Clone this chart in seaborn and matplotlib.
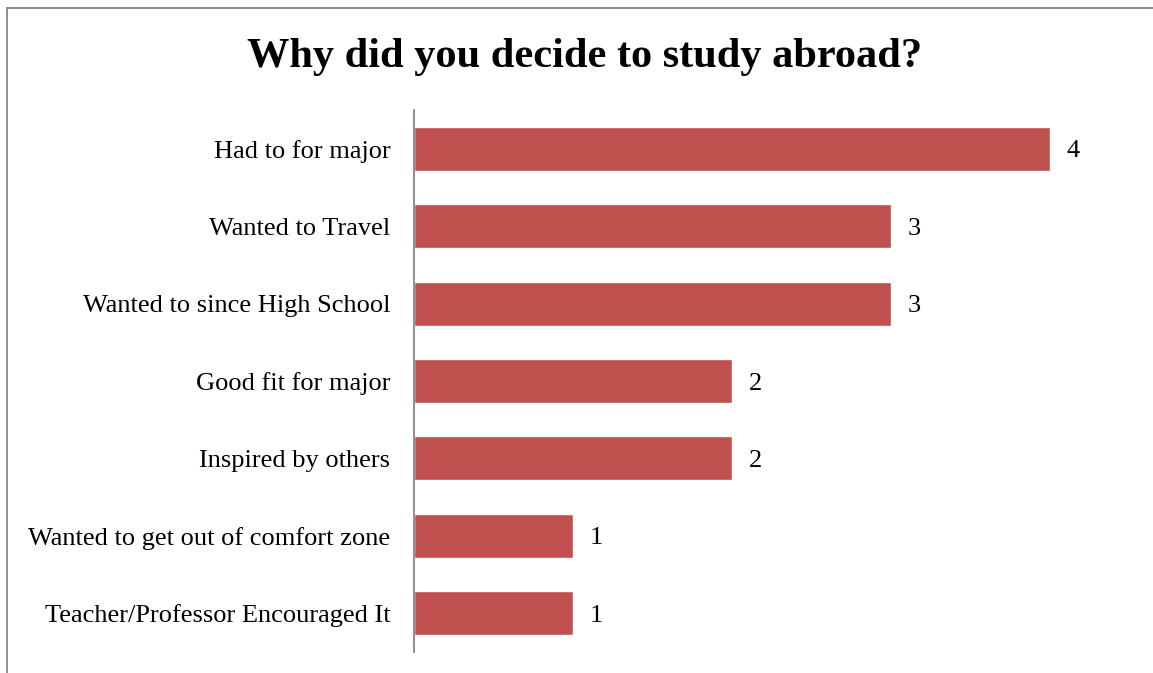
import matplotlib
matplotlib.use("Agg")
import matplotlib.pyplot as plt
import seaborn as sns
import pandas as pd
from matplotlib.lines import Line2D

categories = ["Had to for major", "Wanted to Travel", "Wanted to since High School",
              "Good fit for major", "Inspired by others",
              "Wanted to get out of comfort zone", "Teacher/Professor Encouraged It"]
counts = [4, 3, 3, 2, 2, 1, 1]
title = "Why did you decide to study abroad?"

sns.set_theme(style="white")
plt.rcParams['font.family'] = ['Liberation Serif', 'DejaVu Serif']

df = pd.DataFrame({"reason": categories, "count": counts})

W, H = 1153, 673
fig = plt.figure(figsize=(W / 100, H / 100), dpi=100)
ax = fig.add_axes([414 / W, 1 - 652 / H, 715 / W, 542 / H])

sns.barplot(data=df, y="reason", x="count", orient="h", color="#C0504D",
            saturation=1, width=0.57, ax=ax)
ax.set_xlim(0, 4.5)
ax.set_ylim(6.5, -0.5)
ax.set_xlabel("")
ax.set_ylabel("")
ax.set_xticks([])
for s in ["top", "right", "bottom"]:
    ax.spines[s].set_visible(False)
ax.spines["left"].set_color("#868686")
ax.spines["left"].set_linewidth(1.3)
ax.tick_params(axis="y", length=0, labelsize=19, pad=17, colors="black")
for c in ax.containers:
    labels = ax.bar_label(c, labels=[str(v) for v in counts], padding=12,
                          fontsize=19, color="black")
    for t in labels:
        t.set_va("center_baseline")

fig.text(0.5 + 8 / W, 1 - 57 / H, title, ha="center", va="center",
         fontsize=30.5, fontweight="bold", color="black")

# outer border (top and left visible)
fig.add_artist(Line2D([7 / W, 1], [1 - 8 / H, 1 - 8 / H], transform=fig.transFigure,
                      color="#868686", lw=1.3))
fig.add_artist(Line2D([7 / W, 7 / W], [0, 1 - 8 / H], transform=fig.transFigure,
                      color="#868686", lw=1.3))

fig.savefig("out.png", dpi=100, facecolor="white")
